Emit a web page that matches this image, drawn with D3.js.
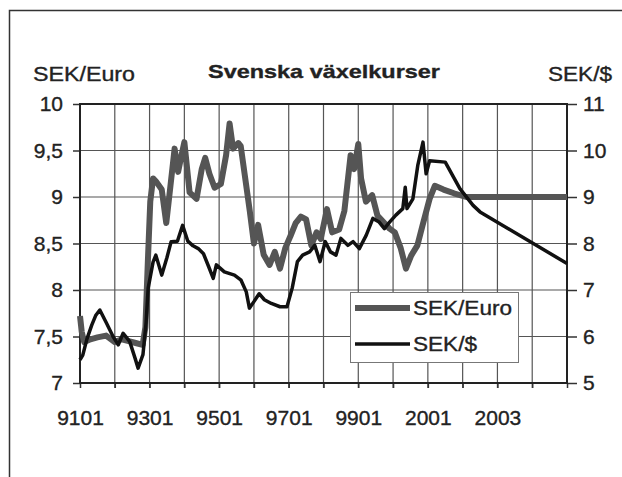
<!DOCTYPE html>
<html>
<head>
<meta charset="utf-8">
<script src="https://cdn.jsdelivr.net/npm/d3@7"></script>
<style>
  body { margin: 0; background: #fff; }
  text { font-family: "Liberation Sans", Arial, sans-serif; fill: #222; stroke: #222; stroke-width: 0.35px; }
</style>
</head>
<body>
<div id="chart"></div>
<script>
// data (decimal years)
var euroDates = [1991.00, 1991.05, 1991.12, 1991.30, 1991.50, 1991.75, 1992.00, 1992.20, 1992.40, 1992.60,
    1992.80, 1992.88, 1992.95, 1993.02, 1993.10, 1993.20, 1993.35, 1993.48, 1993.60, 1993.72,
    1993.82, 1993.92, 1994.00, 1994.15, 1994.35, 1994.50, 1994.60, 1994.72, 1994.87, 1995.05,
    1995.20, 1995.30, 1995.40, 1995.55, 1995.62, 1995.75, 1995.88, 1996.00, 1996.12, 1996.28,
    1996.45, 1996.60, 1996.75, 1996.90, 1997.05, 1997.20, 1997.35, 1997.50, 1997.65, 1997.80,
    1997.92, 1998.10, 1998.25, 1998.45, 1998.60, 1998.78, 1998.88, 1999.00, 1999.08, 1999.22,
    1999.40, 1999.55, 1999.75, 1999.90, 2000.05, 2000.22, 2000.37, 2000.52, 2000.70, 2000.85,
    2001.05, 2001.20, 2001.45, 2001.75, 2002.10, 2005.00];
var euroRates = [7.72, 7.55, 7.44, 7.47, 7.49, 7.51, 7.44, 7.47, 7.45, 7.43,
    7.41, 7.60, 8.30, 8.95, 9.20, 9.16, 9.08, 8.72, 9.12, 9.52,
    9.27, 9.45, 9.59, 9.05, 8.98, 9.30, 9.42, 9.25, 9.10, 9.14,
    9.45, 9.79, 9.52, 9.58, 9.55, 9.20, 8.85, 8.50, 8.70, 8.38,
    8.27, 8.41, 8.23, 8.45, 8.58, 8.72, 8.79, 8.76, 8.48, 8.62,
    8.55, 8.87, 8.62, 8.65, 8.85, 9.45, 9.30, 9.57, 9.20, 8.95,
    9.02, 8.80, 8.72, 8.66, 8.62, 8.45, 8.23, 8.37, 8.48, 8.70,
    8.98, 9.12, 9.08, 9.04, 9.00, 9.00];

var usdDates = [1991.00, 1991.08, 1991.20, 1991.34, 1991.45, 1991.57, 1991.76, 1991.95, 1992.10, 1992.24,
    1992.43, 1992.58, 1992.67, 1992.81, 1992.90, 1992.96, 1993.10, 1993.18, 1993.35, 1993.50,
    1993.62, 1993.80, 1993.95, 1994.10, 1994.25, 1994.40, 1994.55, 1994.70, 1994.83, 1994.92,
    1995.15, 1995.44, 1995.63, 1995.78, 1995.87, 1996.00, 1996.15, 1996.30, 1996.50, 1996.75,
    1996.95, 1997.10, 1997.25, 1997.40, 1997.60, 1997.75, 1997.90, 1998.05, 1998.20, 1998.36,
    1998.50, 1998.70, 1998.85, 1999.03, 1999.23, 1999.42, 1999.60, 1999.75, 1999.90, 2000.08,
    2000.28, 2000.35, 2000.40, 2000.57, 2000.71, 2000.86, 2000.95, 2001.05, 2001.50, 2001.92,
    2002.30, 2002.50, 2005.00];
var usdRates = [5.50, 5.60, 5.95, 6.25, 6.45, 6.57, 6.29, 6.00, 5.82, 6.07,
    5.89, 5.54, 5.32, 5.61, 6.30, 7.04, 7.60, 7.75, 7.32, 7.70,
    8.04, 8.05, 8.39, 8.05, 7.95, 7.89, 7.78, 7.50, 7.25, 7.54,
    7.39, 7.32, 7.21, 6.96, 6.61, 6.75, 6.92, 6.79, 6.71, 6.64,
    6.64, 7.04, 7.61, 7.75, 7.82, 7.96, 7.61, 8.04, 7.82, 7.75,
    8.11, 7.96, 8.04, 7.89, 8.18, 8.54, 8.46, 8.32, 8.46, 8.61,
    8.75, 9.21, 8.75, 8.96, 9.68, 10.18, 9.50, 9.78, 9.75, 9.18,
    8.82, 8.68, 7.57];

var xTickYears = [1991, 1993, 1995, 1997, 1999, 2001, 2003];
var xTickLabels = ["9101", "9301", "9501", "9701", "9901", "2001", "2003"];
var leftTicks = [7, 7.5, 8, 8.5, 9, 9.5, 10];
var leftTickLabels = ["7", "7,5", "8", "8,5", "9", "9,5", "10"];
var rightTicks = [5, 6, 7, 8, 9, 10, 11];
var rightTickLabels = ["5", "6", "7", "8", "9", "10", "11"];

var width = 622, height = 477;
var plotLeft = 80, plotRight = 567, plotTop = 104, plotBottom = 383;

var svg = d3.select('#chart').append('svg')
    .attr('width', width)
    .attr('height', height);

// page frame (only top and left show)
svg.append('path')
    .attr('d', 'M9.5,' + height + 'V10.5H' + width)
    .attr('fill', 'none')
    .attr('stroke', '#333')
    .attr('stroke-width', 1.5);

// scales
var x = d3.scaleLinear().domain([1991, 2005]).range([plotLeft, plotRight]);
var yEuro = d3.scaleLinear().domain([7, 10]).range([plotBottom, plotTop]);
var yUsd = d3.scaleLinear().domain([5, 11]).range([plotBottom, plotTop]);

// grid
var grid = svg.append('g');
grid.selectAll('line.v').data(d3.range(1992, 2005)).enter().append('line')
    .attr('x1', x).attr('x2', x)
    .attr('y1', plotTop).attr('y2', plotBottom + 5)
    .attr('stroke', '#555').attr('stroke-width', 1.2);
grid.selectAll('line.h').data([7.5, 8, 8.5, 9, 9.5]).enter().append('line')
    .attr('x1', plotLeft).attr('x2', plotRight)
    .attr('y1', yEuro).attr('y2', yEuro)
    .attr('stroke', '#555').attr('stroke-width', 1.2);

// left axis
var leftAxis = svg.append('g')
    .attr('transform', 'translate(' + plotLeft + ',0)')
    .call(d3.axisLeft(yEuro).tickValues(leftTicks)
        .tickFormat(function (d, i) { return leftTickLabels[i]; })
        .tickSize(7).tickPadding(10));

// right axis
var rightAxis = svg.append('g')
    .attr('transform', 'translate(' + plotRight + ',0)')
    .call(d3.axisRight(yUsd).tickValues(rightTicks)
        .tickFormat(function (d, i) { return rightTickLabels[i]; })
        .tickSize(10).tickPadding(6));

// bottom axis (ticks every year, labels every second)
var bottomAxis = svg.append('g')
    .attr('transform', 'translate(0,' + plotBottom + ')')
    .call(d3.axisBottom(x).tickValues(d3.range(1991, 2006))
        .tickFormat(function (d) {
            var i = xTickYears.indexOf(d);
            return i >= 0 ? xTickLabels[i] : "";
        })
        .tickSize(5).tickPadding(22));

[leftAxis, rightAxis, bottomAxis].forEach(function (g) {
    g.select('.domain').remove();
    g.selectAll('line').attr('stroke', '#333').attr('stroke-width', 1.5);
    g.selectAll('text')
        .style('font-size', '21px')
        .attr('fill', '#222');
});

// plot border
svg.append('rect')
    .attr('x', plotLeft).attr('y', plotTop)
    .attr('width', plotRight - plotLeft).attr('height', plotBottom - plotTop)
    .attr('fill', 'none')
    .attr('stroke', '#222')
    .attr('stroke-width', 2);

// lines
var euroLine = d3.line()
    .x(function (d, i) { return x(euroDates[i]); })
    .y(function (d) { return yEuro(d); });
var usdLine = d3.line()
    .x(function (d, i) { return x(usdDates[i]); })
    .y(function (d) { return yUsd(d); });

svg.append('path')
    .attr('d', euroLine(euroRates))
    .attr('fill', 'none')
    .attr('stroke', '#555')
    .attr('stroke-width', 6)
    .attr('stroke-linejoin', 'round');

svg.append('path')
    .attr('d', usdLine(usdRates))
    .attr('fill', 'none')
    .attr('stroke', '#111')
    .attr('stroke-width', 3.5)
    .attr('stroke-linejoin', 'round');

// legend
var legend = svg.append('g');
legend.append('rect')
    .attr('x', 350.5).attr('y', 292.5)
    .attr('width', 168).attr('height', 70)
    .attr('fill', '#fff')
    .attr('stroke', '#777')
    .attr('stroke-width', 1);
legend.append('line')
    .attr('x1', 355).attr('x2', 410).attr('y1', 308).attr('y2', 308)
    .attr('stroke', '#555').attr('stroke-width', 6);
legend.append('line')
    .attr('x1', 355).attr('x2', 410).attr('y1', 344).attr('y2', 344)
    .attr('stroke', '#111').attr('stroke-width', 3.5);
legend.append('text')
    .attr('x', 413).attr('y', 315)
    .attr('textLength', 99).attr('lengthAdjust', 'spacingAndGlyphs')
    .style('font-size', '20px')
    .text('SEK/Euro');
legend.append('text')
    .attr('x', 413).attr('y', 351)
    .attr('textLength', 64).attr('lengthAdjust', 'spacingAndGlyphs')
    .style('font-size', '20px')
    .text('SEK/$');

// titles
svg.append('text')
    .attr('x', 208).attr('y', 78)
    .attr('textLength', 232).attr('lengthAdjust', 'spacingAndGlyphs')
    .style('font-size', '19px').style('font-weight', 'bold')
    .text('Svenska växelkurser');
svg.append('text')
    .attr('x', 33).attr('y', 81)
    .attr('textLength', 102).attr('lengthAdjust', 'spacingAndGlyphs')
    .style('font-size', '20px')
    .text('SEK/Euro');
svg.append('text')
    .attr('x', 548).attr('y', 81)
    .attr('textLength', 64).attr('lengthAdjust', 'spacingAndGlyphs')
    .style('font-size', '20px')
    .text('SEK/$');
</script>
</body>
</html>
